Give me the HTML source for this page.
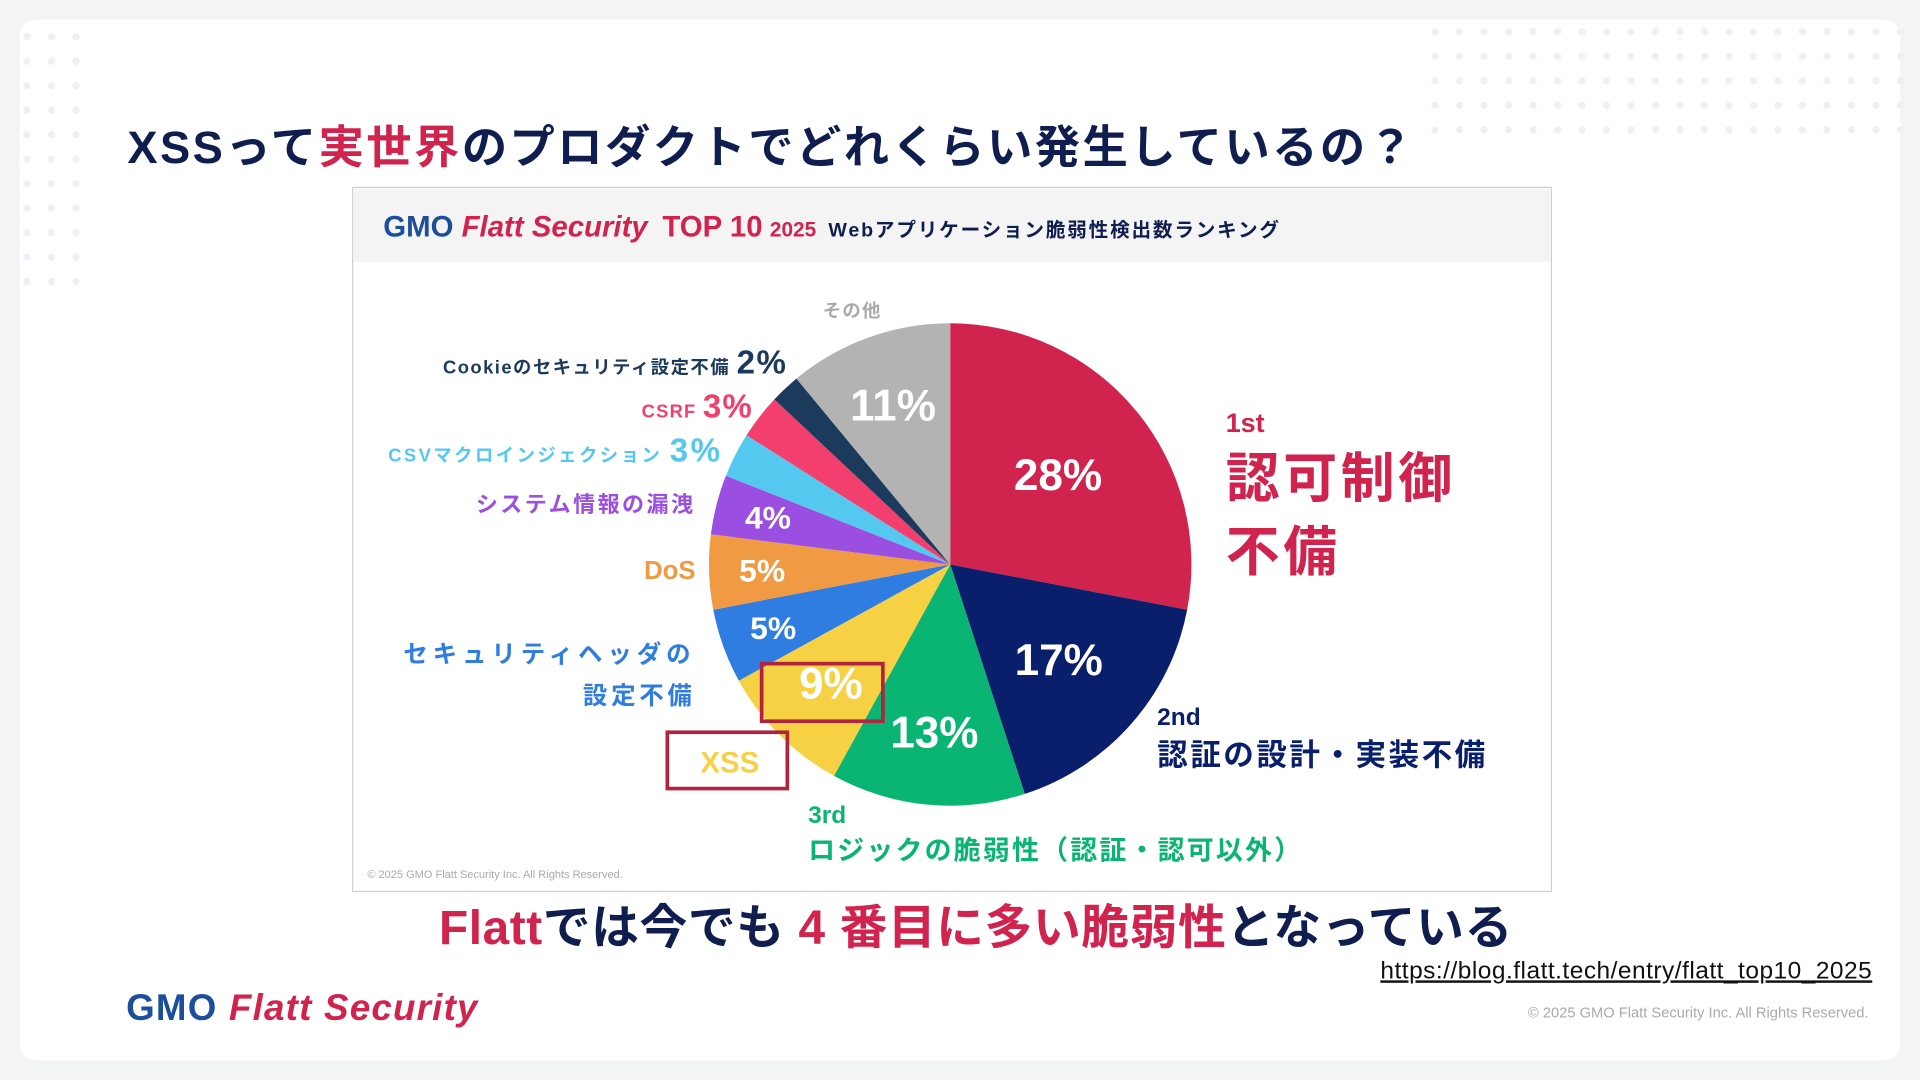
<!DOCTYPE html>
<html><head><meta charset="utf-8">
<style>
html,body{margin:0;padding:0;width:1920px;height:1080px;overflow:hidden;background:#f3f4f6;}
svg{display:block;font-family:"Liberation Sans","Noto Sans CJK JP",sans-serif;}
</style></head>
<body>
<svg id="slide" width="1920" height="1080" viewBox="0 0 1568 882" xmlns="http://www.w3.org/2000/svg">
  <rect x="0" y="0" width="1568" height="882" fill="#f3f4f6"/>
  <rect x="16" y="16" width="1536" height="850" rx="14" fill="#ffffff"/>
  <g id="dots" fill="#eef0f4"></g>
  <text x="104" y="133" font-size="37" font-weight="700" fill="#0f1e4e" letter-spacing="2">XSSって<tspan fill="#d0234e">実世界</tspan>のプロダクトでどれくらい発生しているの？</text>

  <g>
    <rect x="288" y="153" width="979" height="575" fill="#ffffff" stroke="#cfcfcf" stroke-width="1"/>
    <rect x="289" y="154" width="977" height="60" fill="#f4f4f4"/>
    <text x="313" y="193" font-size="24" font-weight="700" fill="#1b4f9c">GMO <tspan fill="#d0234e" font-style="italic">Flatt Security</tspan><tspan fill="#d0234e" dx="12">TOP 10</tspan><tspan fill="#d0234e" font-size="17" dx="6">2025</tspan><tspan fill="#0f1e4e" font-size="16" dx="10" letter-spacing="1.5">Webアプリケーション脆弱性検出数ランキング</tspan></text>
    <g id="pie"></g>
    <g id="outer-labels" font-weight="700">
      <text x="672" y="259" font-size="15" fill="#aaaaaa" letter-spacing="1">その他</text>
      <text x="643" y="305" text-anchor="end" font-size="15" fill="#1b3a5c" letter-spacing="1.2">Cookieのセキュリティ設定不備 <tspan font-size="27">2%</tspan></text>
      <text x="615" y="341" text-anchor="end" font-size="15" fill="#f23f6e" letter-spacing="1">CSRF <tspan font-size="27">3%</tspan></text>
      <text x="590" y="377" text-anchor="end" font-size="15" fill="#55c8ef" letter-spacing="2">CSVマクロインジェクション <tspan font-size="27">3%</tspan></text>
      <text x="568" y="418" text-anchor="end" font-size="18" fill="#9b4fe0" letter-spacing="2">システム情報の漏洩</text>
      <text x="568" y="473" text-anchor="end" font-size="21" fill="#f09a44">DoS</text>
      <text x="568" y="541" text-anchor="end" font-size="20" fill="#2f7de1" letter-spacing="4">セキュリティヘッダの</text>
      <text x="568" y="575" text-anchor="end" font-size="20" fill="#2f7de1" letter-spacing="3">設定不備</text>
      <text x="596" y="631" text-anchor="middle" font-size="24" fill="#f7d144">XSS</text>
      <text x="1001" y="353" font-size="22" fill="#d0234e">1st</text>
      <text x="1001" y="406" font-size="44" fill="#d0234e" letter-spacing="3">認可制御</text>
      <text x="1001" y="466" font-size="44" fill="#d0234e" letter-spacing="3">不備</text>
      <text x="945" y="592" font-size="20" fill="#0a1f6b">2nd</text>
      <text x="945" y="625" font-size="25" fill="#0a1f6b" letter-spacing="2">認証の設計・実装不備</text>
      <text x="660" y="672" font-size="20" fill="#0ab573">3rd</text>
      <text x="660" y="702" font-size="22" fill="#0ab573" letter-spacing="1.8">ロジックの脆弱性（認証・認可以外）</text>
    </g>
    <rect x="622" y="542" width="99" height="47" fill="none" stroke="#b0243f" stroke-width="3"/>
    <rect x="545" y="598" width="98" height="46" fill="none" stroke="#b0243f" stroke-width="3"/>
    <text x="300" y="717" font-size="9" fill="#aaaaaa">© 2025 GMO Flatt Security Inc. All Rights Reserved.</text>
  </g>

  <text x="797" y="771" text-anchor="middle" font-size="39" font-weight="700" fill="#0f1e4e" letter-spacing="0.5"><tspan fill="#d0234e">Flatt</tspan>では今でも <tspan fill="#d0234e">4 番目に多い脆弱性</tspan>となっている</text>
  <text x="1529" y="799" text-anchor="end" font-size="20" fill="#111111" text-decoration="underline" letter-spacing="0.4">https://blog.flatt.tech/entry/flatt_top10_2025</text>
  <text x="103" y="833" font-size="30" font-weight="700" fill="#1b4f9c" letter-spacing="1">GMO <tspan fill="#d0234e" font-style="italic">Flatt Security</tspan></text>
  <text x="1526" y="831" text-anchor="end" font-size="12" fill="#aaaaaa">© 2025 GMO Flatt Security Inc. All Rights Reserved.</text>
</svg>
<script>
const categories = ["認可制御不備","認証の設計・実装不備","ロジックの脆弱性","XSS","セキュリティヘッダの設定不備","DoS","システム情報の漏洩","CSVマクロインジェクション","CSRF","Cookieのセキュリティ設定不備","その他"];
const values = [28,17,13,9,5,5,4,3,3,2,11];
const colors = ["#d0234e","#0a1f6b","#0ab573","#f7d144","#2f7de1","#f09a44","#9b4fe0","#55c8ef","#f23f6e","#1b3a5c","#b3b3b3"];
const valueLabels = ["28%","17%","13%","9%","5%","5%","4%","","","","11%"];

const NS="http://www.w3.org/2000/svg";
const cx=776, cy=461, r=197;
const total=values.reduce((a,b)=>a+b,0);
function angle(v){return v/total*Math.PI*2;}
function pt(a,rr){return [cx+rr*Math.sin(a), cy-rr*Math.cos(a)];}
const pie=document.getElementById('pie');
let acc=0;
values.forEach((v,i)=>{
  const a0=angle(acc), a1=angle(acc+v); acc+=v;
  const p0=pt(a0,r), p1=pt(a1,r);
  const large=(a1-a0)>Math.PI?1:0;
  const path=document.createElementNS(NS,'path');
  path.setAttribute('d',`M${cx},${cy} L${p0[0]},${p0[1]} A${r},${r} 0 ${large} 1 ${p1[0]},${p1[1]} Z`);
  path.setAttribute('fill',colors[i]);
  
  
  pie.appendChild(path);
  if(valueLabels[i]){
    const mid=(a0+a1)/2;
    const big=v>=9;
    const rr=v>=20?r*0.58:(v>=15?r*0.6:(v>=9?r*0.7:r*0.78));
    const p=pt(mid,rr);
    const t=document.createElementNS(NS,'text');
    t.setAttribute('x',p[0]);t.setAttribute('y',p[1]+(big?12:9));
    t.setAttribute('text-anchor','middle');
    t.setAttribute('font-size',big?36:26);
    t.setAttribute('font-weight','700');
    t.setAttribute('fill','#ffffff');
    t.textContent=valueLabels[i];
    
    
    pie.appendChild(t);
  }
});
const dots=document.getElementById('dots');
function dotGrid(x0,y0,cols,rows,step){
  for(let i=0;i<cols;i++)for(let j=0;j<rows;j++){
    const c=document.createElementNS(NS,'circle');
    c.setAttribute('cx',x0+i*step);c.setAttribute('cy',y0+j*step);c.setAttribute('r',3);
    dots.appendChild(c);
  }
}
dotGrid(22,30,3,11,20);
dotGrid(1172,26,20,5,20);
</script>
</body></html>
